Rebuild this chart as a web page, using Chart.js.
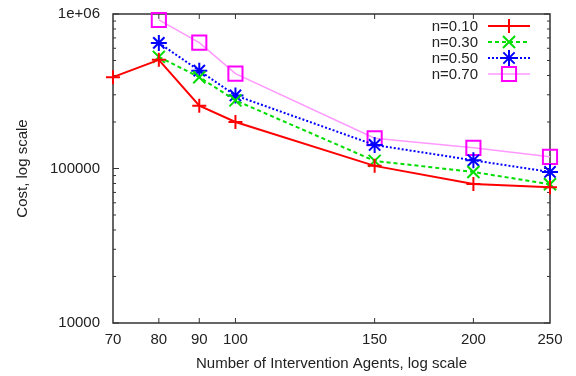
<!DOCTYPE html>
<html>
<head>
<meta charset="utf-8">
<script src="https://cdn.jsdelivr.net/npm/chart.js@4.4.0/dist/chart.umd.min.js"></script>
<style>
  html, body { margin: 0; padding: 0; background: #fff; }
  #wrap { width: 576px; height: 376px; }
</style>
</head>
<body>
<div id="wrap"><canvas id="chart" width="576" height="376"></canvas></div>
<script>
// agents on the x axis (log scale)
const agents = [70, 80, 90, 100, 150, 200, 250];
// cost per rate n, null = no point
const n10 = [390000, 505000, 255000, 200000, 104000, 79500, 75500];
const n30 = [null, 528000, 390000, 276000, 112000, 95000, 79000];
const n50 = [null, 650000, 430000, 297000, 142000, 113000, 95000];
const n70 = [null, 915000, 653000, 411000, 157000, 136000, 119000];

const xTickValues = [70, 80, 90, 100, 150, 200, 250];
const yTickValues = [10000, 100000, 1000000];
const yTickLabels = ['10000', '100000', '1e+06'];

const FONT = '"Liberation Sans", Arial, Helvetica, sans-serif';

function toPoints(vals) {
    return agents.map((a, i) => ({x: a, y: vals[i]})).filter(p => p.y !== null);
}

const series = [
    {label: 'n=0.10', vals: n10, color: '#ff0000', width: 2, dash: [], style: 'cross', radius: 7},
    {label: 'n=0.30', vals: n30, color: '#00dd00', width: 2, dash: [4, 3], style: 'crossRot', radius: 8.5},
    {label: 'n=0.50', vals: n50, color: '#0000ff', width: 2, dash: [2, 2], style: 'star', radius: 8},
    {label: 'n=0.70', vals: n70, color: '#ff99ff', width: 1.5, dash: [], style: 'rect', radius: 10, pointColor: '#ff00ff'}
];

// box + inside tick marks, like gnuplot
const frame = {
    id: 'frame',
    beforeDatasetsDraw(chart) {
        const {ctx, chartArea: a, scales: {x, y}} = chart;
        ctx.save();
        ctx.strokeStyle = '#333';
        ctx.lineWidth = 1;
        ctx.beginPath();
        xTickValues.forEach(v => {
            const px = x.getPixelForValue(v);
            if (px <= a.left + 1 || px >= a.right - 1) return;
            ctx.moveTo(px, a.bottom); ctx.lineTo(px, a.bottom - 5);
            ctx.moveTo(px, a.top); ctx.lineTo(px, a.top + 5);
        });
        for (let d = 10000; d < 1000000; d *= 10) {
            for (let k = 2; k <= 9; k++) {
                const py = y.getPixelForValue(k * d);
                ctx.moveTo(a.left, py); ctx.lineTo(a.left + 3, py);
                ctx.moveTo(a.right, py); ctx.lineTo(a.right - 3, py);
            }
        }
        yTickValues.forEach(v => {
            const py = y.getPixelForValue(v);
            ctx.moveTo(a.left, py); ctx.lineTo(a.left + 6, py);
            ctx.moveTo(a.right, py); ctx.lineTo(a.right - 6, py);
        });
        ctx.stroke();
        ctx.lineWidth = 1.5;
        ctx.strokeRect(a.left, a.top, a.right - a.left, a.bottom - a.top);
        ctx.restore();
    }
};

// legend: text on the left, line sample with marker on the right
const keyBox = {
    id: 'keyBox',
    afterDatasetsDraw(chart) {
        const {ctx, chartArea: a} = chart;
        ctx.save();
        ctx.font = '15px ' + FONT;
        ctx.textAlign = 'right';
        ctx.textBaseline = 'middle';
        chart.data.datasets.forEach((ds, i) => {
            const yy = a.top + 12 + i * 16;
            ctx.fillStyle = '#222';
            ctx.fillText(ds.label, a.right - 72, yy + 1);
            ctx.strokeStyle = ds.borderColor;
            ctx.lineWidth = ds.borderWidth;
            ctx.setLineDash(ds.borderDash);
            ctx.beginPath();
            ctx.moveTo(a.right - 62, yy);
            ctx.lineTo(a.right - 20, yy);
            ctx.stroke();
            ctx.setLineDash([]);
            ctx.fillStyle = 'rgba(0,0,0,0)';
            ctx.strokeStyle = ds.pointBorderColor;
            ctx.lineWidth = ds.pointBorderWidth;
            Chart.helpers.drawPoint(ctx, {pointStyle: ds.pointStyle, radius: ds.pointRadius, rotation: 0, borderWidth: ds.pointBorderWidth}, a.right - 41, yy);
        });
        ctx.restore();
    }
};

new Chart(document.getElementById('chart'), {
    type: 'line',
    data: {
        datasets: series.map(s => ({
            label: s.label,
            data: toPoints(s.vals),
            borderColor: s.color,
            borderWidth: s.width,
            borderDash: s.dash,
            pointStyle: s.style,
            pointRadius: s.radius,
            pointHoverRadius: s.radius,
            pointBorderColor: s.pointColor || s.color,
            pointBackgroundColor: 'rgba(0,0,0,0)',
            pointBorderWidth: 2,
            tension: 0,
            clip: false
        }))
    },
    options: {
        responsive: false,
        animation: false,
        layout: {padding: {top: 3, right: 26, left: 0, bottom: 0}},
        plugins: {legend: {display: false}, tooltip: {enabled: false}},
        scales: {
            x: {
                type: 'logarithmic',
                min: 70,
                max: 250,
                afterBuildTicks: scale => { scale.ticks = xTickValues.map(v => ({value: v})); },
                afterFit: scale => { scale.height = 53; },
                grid: {display: false},
                border: {display: false},
                ticks: {
                    autoSkip: false,
                    maxRotation: 0,
                    padding: 0,
                    color: '#222',
                    font: {family: FONT, size: 15},
                    callback: v => String(v)
                },
                title: {
                    display: true,
                    text: 'Number of Intervention Agents, log scale',
                    color: '#222',
                    font: {family: FONT, size: 15},
                    padding: {top: 0, bottom: 3}
                }
            },
            y: {
                type: 'logarithmic',
                min: 10000,
                max: 1000000,
                afterBuildTicks: scale => { scale.ticks = yTickValues.map(v => ({value: v})); },
                afterFit: scale => { scale.width = 113; },
                grid: {display: false},
                border: {display: false},
                ticks: {
                    autoSkip: false,
                    padding: 5,
                    color: '#222',
                    font: {family: FONT, size: 15},
                    callback: v => yTickLabels[yTickValues.indexOf(v)]
                },
                title: {
                    display: true,
                    text: 'Cost, log scale',
                    color: '#222',
                    font: {family: FONT, size: 15},
                    padding: {top: 14, bottom: 0}
                }
            }
        }
    },
    plugins: [frame, keyBox]
});
</script>
</body>
</html>
